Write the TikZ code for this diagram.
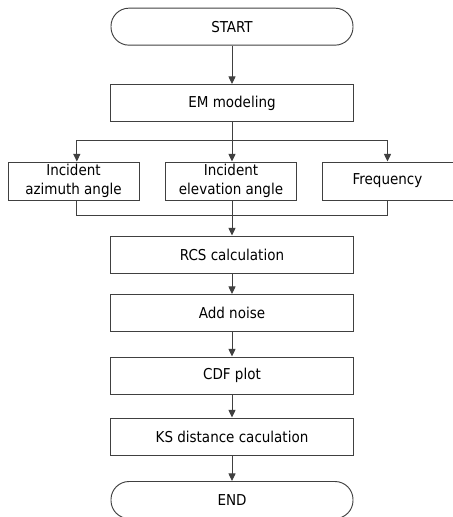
\documentclass[tikz,border=0pt]{standalone}
\usepackage{fontspec}
\setmainfont{DejaVu Sans Condensed}
\usepackage{tikz}
\usetikzlibrary{arrows.meta, calc, positioning}
\definecolor{linegray}{HTML}{404040}
\tikzset{
    terminal/.style ={rectangle, draw, rounded corners=0.54cm, minimum width = 7.26cm, minimum height = 1.11cm},
    process/.style ={rectangle, draw, minimum width = 7.29cm, minimum height = 1.11cm},
    param/.style ={rectangle, draw, align=center, minimum width = 3.93cm, minimum height = 1.14cm, inner sep=1pt}
    }

\begin{document}
\begin{tikzpicture}[
      > = {Triangle[length=6.5pt, width=6pt]}, % arrow head style
      draw = linegray,
      line width = 0.8pt,
      font = \fontsize{12.8}{16}\selectfont
    ]
    \useasboundingbox (0,0) rectangle (13.56,-15.51);

    \node[terminal] (1) at (6.96,-0.80) {START};
    \node[process] (2) at (6.96,-3.09) {EM modeling};
    \node[param] (3) at (2.205,-5.43) {Incident\\azimuth angle};
    \node[param] (4) at (6.93,-5.43) {Incident\\elevation angle};
    \node[param] (5) at (11.625,-5.43) {Frequency};
    \node[process] (6) at (6.96,-7.635) {RCS calculation};
    \node[process] (7) at (6.96,-9.39) {Add noise};
    \node[process] (8) at (6.96,-11.265) {CDF plot};
    \node[process] (9) at (6.96,-13.095) {KS distance caculation};
    \node[terminal] (10) at (6.96,-15.0) {END};

    \coordinate (a) at (6.96,-4.2);
    \coordinate (b) at (6.96,-6.45);

    \draw[->] (1) -- (2);
    \draw (2) -- (a);
    \draw[->] (a) -| ([xshift=1mm]3.north);
    \draw[->] (a) -- (a |- 4.north);
    \draw[->] (a) -| (5);

    \draw ([xshift=1mm]3.south) |- (b);
    \draw (5) |- (b);
    \draw (b |- 4.south) -- (b);

    \draw[->] (b) -- (6);
    \draw[->] (6) -- (7);
    \draw[->] (7) -- (8);
    \draw[->] (8) -- (9);
    \draw[->] (9) -- (10);

\end{tikzpicture}
\end{document}
